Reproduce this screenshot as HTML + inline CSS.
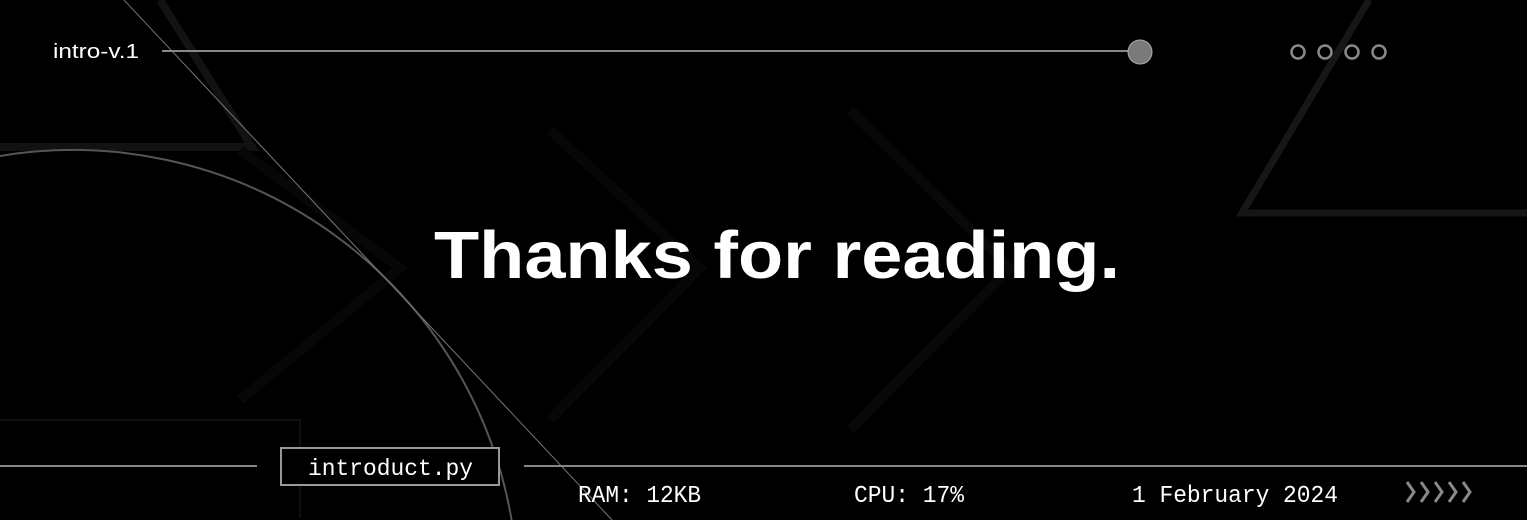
<!DOCTYPE html>
<html><head><meta charset="utf-8">
<style>
html,body{margin:0;padding:0;background:#000;width:1527px;height:520px;overflow:hidden;}
svg{display:block;}
</style></head>
<body>
<svg width="1527" height="520" viewBox="0 0 1527 520" xmlns="http://www.w3.org/2000/svg">
  <rect x="0" y="0" width="1527" height="520" fill="#000"/>
  <polyline points="160,0 252,147 0,147" fill="none" stroke="#121212" stroke-width="8"/>
  <polyline points="1369,0 1242,213 1527,213" fill="none" stroke="#161616" stroke-width="7"/>
  <polyline points="0,420 300,420 300,518" fill="none" stroke="#0f0f0f" stroke-width="2"/>
  <polyline points="240,150 400,268 240,400" fill="none" stroke="#070707" stroke-width="10"/>
  <polyline points="550,130 700,268 550,420" fill="none" stroke="#070707" stroke-width="10"/>
  <polyline points="850,110 1010,268 850,430" fill="none" stroke="#080808" stroke-width="10"/>
  <path d="M0,156 A445,445 0 0 1 511.6,520" fill="none" stroke="#555" stroke-width="2"/>
  <line x1="124" y1="0" x2="612" y2="520" stroke="#777" stroke-width="1"/>
  <text x="53" y="58" fill="#fff" font-family="Liberation Sans, sans-serif" font-size="20" textLength="86" lengthAdjust="spacingAndGlyphs">intro-v.1</text>
  <line x1="162" y1="51" x2="1138" y2="51" stroke="#888" stroke-width="2"/>
  <circle cx="1140" cy="52" r="12" fill="#7a7a7a" stroke="#aaa" stroke-width="1"/>
  <g fill="none" stroke="#888" stroke-width="2.5">
    <circle cx="1298" cy="52" r="6.5"/>
    <circle cx="1325" cy="52" r="6.5"/>
    <circle cx="1352" cy="52" r="6.5"/>
    <circle cx="1379" cy="52" r="6.5"/>
  </g>
  <text x="434" y="278" fill="#fff" font-family="Liberation Sans, sans-serif" font-weight="bold" font-size="67" textLength="686" lengthAdjust="spacingAndGlyphs">Thanks for reading.</text>
  <line x1="0" y1="466" x2="257" y2="466" stroke="#888" stroke-width="2"/>
  <line x1="524" y1="466" x2="1527" y2="466" stroke="#888" stroke-width="2"/>
  <rect x="281" y="448" width="218" height="37" fill="#000" stroke="#999" stroke-width="2"/>
  <text x="308" y="475" fill="#fff" font-family="Liberation Mono, monospace" font-size="23" textLength="165" lengthAdjust="spacingAndGlyphs">introduct.py</text>
  <text x="578" y="502" fill="#fff" font-family="Liberation Mono, monospace" font-size="24" textLength="123" lengthAdjust="spacingAndGlyphs">RAM: 12KB</text>
  <text x="854" y="502" fill="#fff" font-family="Liberation Mono, monospace" font-size="24" textLength="110" lengthAdjust="spacingAndGlyphs">CPU: 17%</text>
  <text x="1132" y="502" fill="#fff" font-family="Liberation Mono, monospace" font-size="24" textLength="206" lengthAdjust="spacingAndGlyphs">1 February 2024</text>
  <g fill="none" stroke="#888" stroke-width="3">
    <polyline points="1407,482 1414,492 1407,502"/>
    <polyline points="1421,482 1428,492 1421,502"/>
    <polyline points="1435,482 1442,492 1435,502"/>
    <polyline points="1449,482 1456,492 1449,502"/>
    <polyline points="1463,482 1470,492 1463,502"/>
  </g>
</svg>
</body></html>
